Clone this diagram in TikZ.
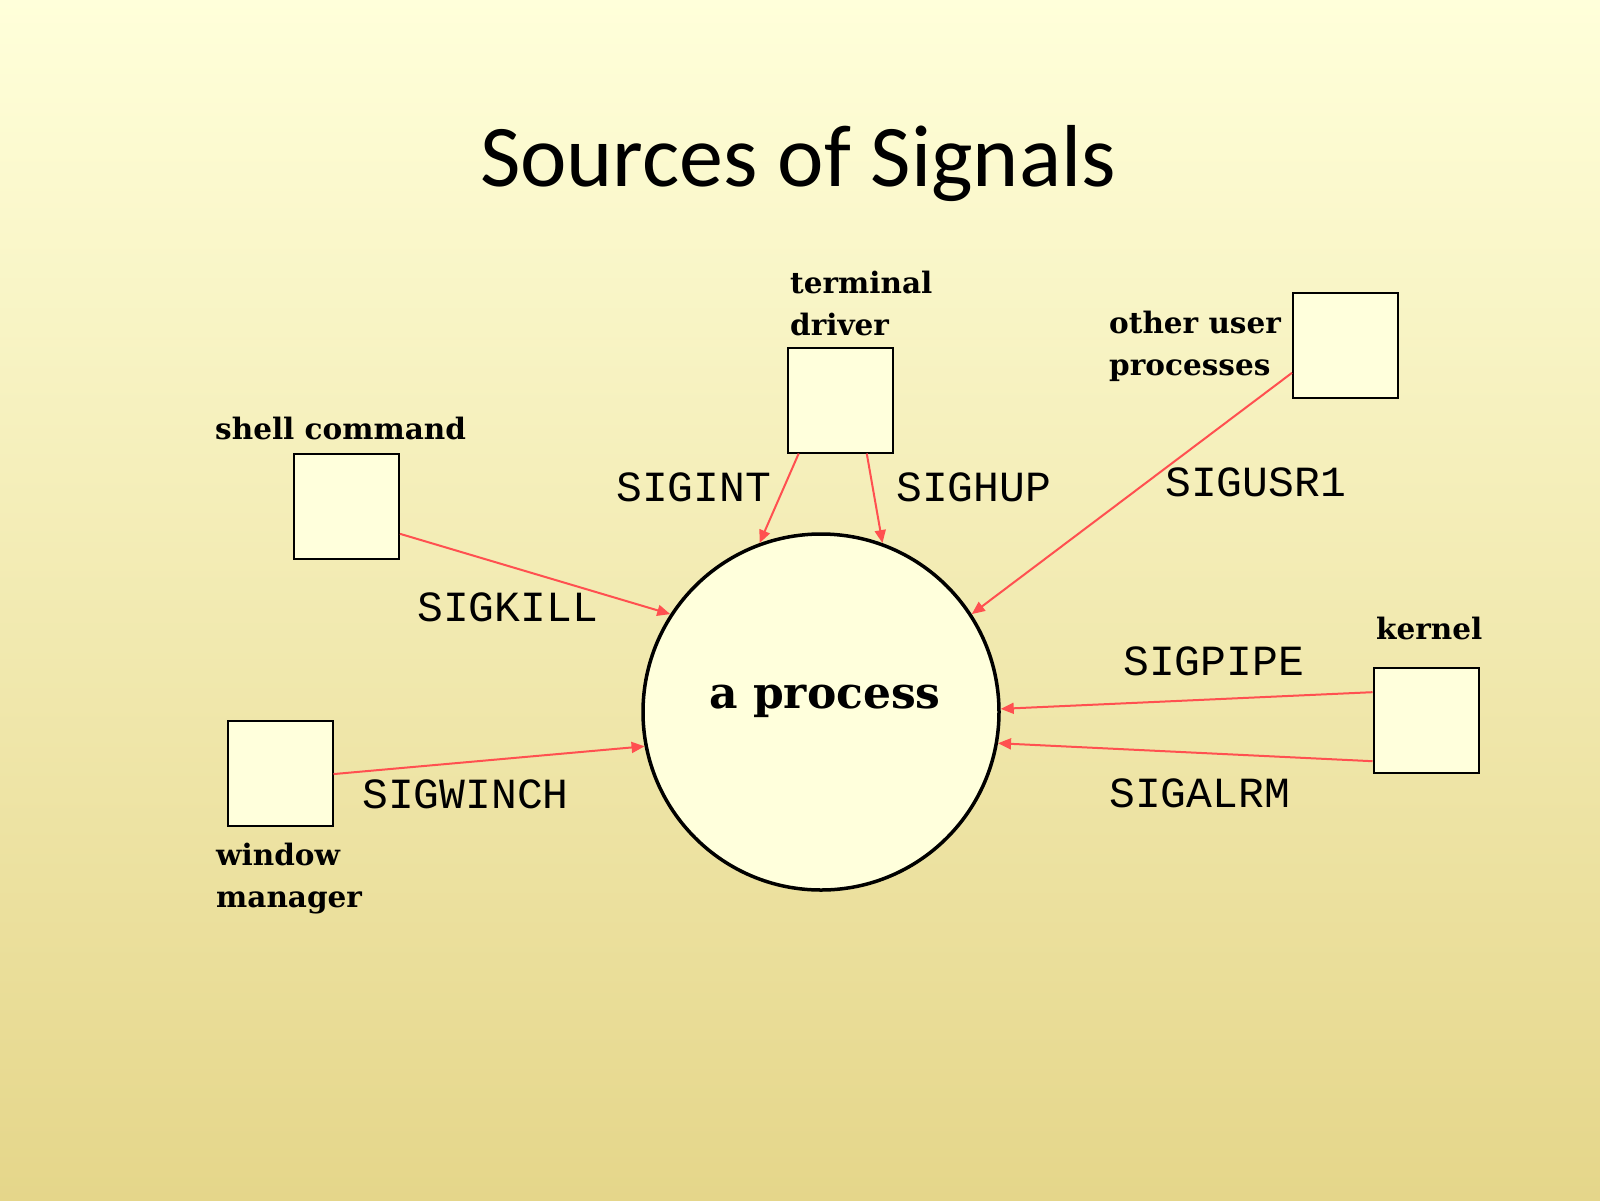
\documentclass[tikz,border=0pt]{standalone}
\usepackage{fontspec}
\usetikzlibrary{arrows.meta,calc}
\newfontfamily\titlefont{Carlito}
\newfontfamily\slabfont{DejaVu Serif}
\newfontfamily\monofont{Liberation Mono}
\definecolor{bgtop}{RGB}{255,255,218}
\definecolor{bgmid}{RGB}{248,244,200}
\definecolor{bgbot}{RGB}{229,214,138}
\definecolor{boxfill}{RGB}{255,255,220}
\definecolor{sigred}{RGB}{255,80,80}
\begin{document}
\begin{tikzpicture}[x=1pt,y=-1pt,
  srcbox/.style={draw=black,line width=2pt,fill=boxfill,minimum width=105pt,minimum height=105pt,inner sep=0pt},
  proc/.style={circle,draw=black,line width=3.5pt,fill=boxfill,minimum size=356pt,inner sep=0pt},
  srclabel/.style={font=\slabfont\bfseries\fontsize{29.5}{42}\selectfont,inner sep=0pt,anchor=base west,align=left},
  siglabel/.style={font=\monofont\fontsize{43}{50}\selectfont,inner sep=0pt,anchor=base west},
  signal/.style={draw=sigred,line width=2pt,-{Triangle[length=13pt,width=11pt]}}]
% background
\shade[top color=bgtop,middle color=bgmid,bottom color=bgbot] (0,0) rectangle (1600,1200);
\useasboundingbox (0,0) rectangle (1600,1200);
% title
\node[font=\titlefont\fontsize{88}{100}\selectfont,anchor=base,inner sep=0pt] (title) at (798,186) {Sources of Signals};
% the process
\node[proc] (proc) at (821,712) {};
\node[font=\slabfont\bfseries\fontsize{44}{50}\selectfont,anchor=base,inner sep=0pt] (proctext) at (825,708) {a process};
% signal sources
\node[srcbox] (shell) at (346.5,506) {};
\node[srcbox] (term) at (840,400) {};
\node[srcbox] (other) at (1345.5,345) {};
\node[srcbox] (kernel) at (1426,720) {};
\node[srcbox] (window) at (280,773) {};
% source labels (base = last line)
\node[srclabel] (shelllab) at (215,439) {shell command};
\node[srclabel] (termlab) at (790,335) {terminal\\driver};
\node[srclabel] (otherlab) at (1109,375) {other user\\processes};
\node[srclabel] (kernellab) at (1376,639) {kernel};
\node[srclabel] (windowlab) at (216,907) {window\\manager};
% arrow start points on the sources
\coordinate (sint) at ($(term.south west)!0.114!(term.south east)$);
\coordinate (shup) at ($(term.south west)!0.75!(term.south east)$);
\coordinate (skill) at ($(shell.north east)!0.76!(shell.south east)$);
\coordinate (susr) at ($(other.north west)!0.76!(other.south west)$);
\coordinate (swinch) at ($(window.north east)!0.51!(window.south east)$);
\coordinate (spipe) at ($(kernel.north west)!0.24!(kernel.south west)$);
\coordinate (salrm) at ($(kernel.north west)!0.885!(kernel.south west)$);
% signals
\draw[signal] (sint) -- (proc.110);
\draw[signal] (shup) -- (proc.70.5);
\draw[signal] (skill) -- (proc.147);
\draw[signal] (susr) -- (proc.33.7);
\draw[signal] (swinch) -- (proc.191);
\draw[signal] (spipe) -- (proc.1.6);
\draw[signal] (salrm) -- (proc.-10.7);
% signal names
\node[siglabel] (lint) at (616,501) {SIGINT};
\node[siglabel] (lhup) at (896,501) {SIGHUP};
\node[siglabel] (lusr) at (1165,496) {SIGUSR1};
\node[siglabel] (lkill) at (417,621) {SIGKILL};
\node[siglabel] (lwinch) at (362,808) {SIGWINCH};
\node[siglabel] (lpipe) at (1123,675) {SIGPIPE};
\node[siglabel] (lalrm) at (1109,807) {SIGALRM};
\end{tikzpicture}
\end{document}
